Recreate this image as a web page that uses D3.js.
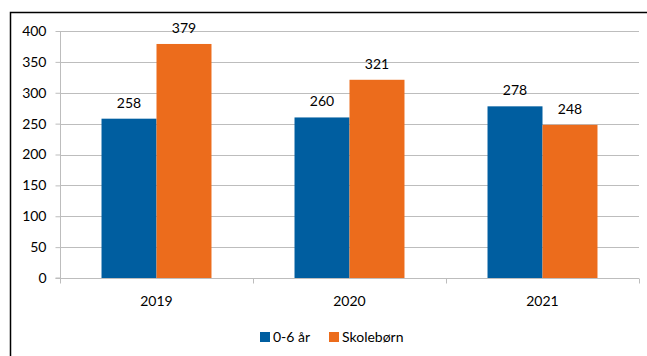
<!DOCTYPE html>
<html><head><meta charset="utf-8">
<script src="https://cdn.jsdelivr.net/npm/d3@7"></script>
<style>body{margin:0;background:#fff}svg{display:block;font-family:Lato,"Open Sans",sans-serif}</style>
</head><body><svg id="c" width="647" height="356"></svg>
<script>
const categories = ["2019","2020","2021"];
const seriesNames = ["0-6 år","Skolebørn"];
const series0 = [258,260,278];
const series1 = [379,321,248];
const yTicks = [0,50,100,150,200,250,300,350,400];
const colors = ["#005EA0","#EC6C1C"];

const svg = d3.select("#c");
const m = {l:60, r:639, t:31, b:278};
const x = d3.scaleBand().domain(categories).range([m.l, m.r]).paddingInner(0).paddingOuter(0);
const xs = d3.scaleBand().domain([0,1]).range([0, x.bandwidth()]).paddingInner(0).paddingOuter(0.755);
const y = d3.scaleLinear().domain([0,400]).range([m.b, m.t]);

// outer border (left & top)
svg.append("path").attr("d",`M10.5,356 V12.5 H647`).attr("fill","none").attr("stroke","#000").attr("stroke-width",1.5);

// gridlines
svg.append("g").selectAll("line").data(yTicks.filter(d=>d>0)).join("line")
  .attr("x1",m.l).attr("x2",m.r).attr("y1",d=>Math.round(y(d))+0.5).attr("y2",d=>Math.round(y(d))+0.5)
  .attr("stroke","#BDBDBD").attr("stroke-width",1);

// y axis
const ya = svg.append("g").attr("transform",`translate(${m.l+0.5},0)`)
  .call(d3.axisLeft(y).tickValues(yTicks).tickSize(5).tickPadding(9));
ya.select(".domain").attr("stroke","#BDBDBD").attr("d",`M-5,${m.b}H0V${m.t}`);
ya.selectAll(".tick line").attr("stroke","#BDBDBD");
ya.selectAll("text").attr("font-size",14).attr("fill","#000").attr("font-family","Lato");

// bars
const data = categories.map((c,i)=>({c, v:[series0[i],series1[i]]}));
const g = svg.append("g");
data.forEach(d=>{
  d.v.forEach((v,j)=>{
    const bx = x(d.c)+xs(j);
    g.append("rect").attr("x",bx).attr("y",y(v)).attr("width",xs.bandwidth()).attr("height",y(0)-y(v)).attr("fill",colors[j]);
    g.append("text").attr("x",bx+xs.bandwidth()/2).attr("y",y(v)-11).attr("text-anchor","middle")
      .attr("font-size",14).attr("fill","#000").text(v);
  });
});

// x axis
const xa = svg.append("g").attr("transform",`translate(0,${m.b+0.5})`);
xa.append("line").attr("x1",m.l).attr("x2",m.r).attr("stroke","#BDBDBD");
const bounds = [m.l, ...categories.map(c=>x(c)+x.bandwidth())];
xa.selectAll("line.t").data(bounds).join("line").attr("class","t")
  .attr("x1",d=>Math.round(d)+0.5).attr("x2",d=>Math.round(d)+0.5).attr("y1",0).attr("y2",5).attr("stroke","#BDBDBD");
xa.selectAll("text").data(categories).join("text").attr("x",d=>x(d)+x.bandwidth()/2).attr("y",27)
  .attr("text-anchor","middle").attr("font-size",14).attr("fill","#000").text(d=>d);

// legend
const lg = svg.append("g");
const items = [{n:seriesNames[0],c:colors[0],x:260},{n:seriesNames[1],c:colors[1],x:329}];
items.forEach(it=>{
  lg.append("rect").attr("x",it.x).attr("y",332).attr("width",10).attr("height",10).attr("fill",it.c);
  lg.append("text").attr("x",it.x+13).attr("y",342).attr("font-size",14).attr("fill","#000").text(it.n);
});
</script></body></html>
